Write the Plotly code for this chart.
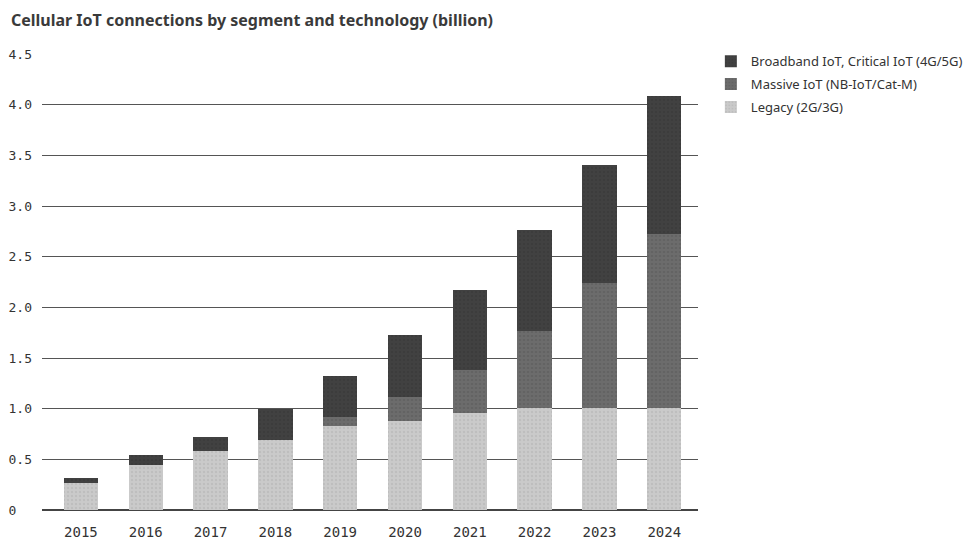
import plotly.graph_objects as go

years = ["2015", "2016", "2017", "2018", "2019", "2020", "2021", "2022", "2023", "2024"]
legacy = [0.27, 0.44, 0.58, 0.69, 0.83, 0.88, 0.96, 1.01, 1.01, 1.01]
massive = [0.00, 0.00, 0.00, 0.00, 0.09, 0.24, 0.42, 0.76, 1.23, 1.71]
broadband = [0.05, 0.10, 0.14, 0.31, 0.40, 0.61, 0.79, 0.99, 1.16, 1.37]
y_ticks = [0, 0.5, 1.0, 1.5, 2.0, 2.5, 3.0, 3.5, 4.0, 4.5]
y_tick_labels = ["0\u00a0\u00a0", "0.5", "1.0", "1.5", "2.0", "2.5", "3.0", "3.5", "4.0", "4.5"]

fig = go.Figure()
fig.add_trace(go.Bar(x=years, y=legacy, name="Legacy (2G/3G)", legendgroup="c", legendrank=3,
                     marker=dict(color="#cacaca", line=dict(width=0),
                                 pattern=dict(shape=".", fgcolor="#b2b2b2", size=4, solidity=0.3))))
fig.add_trace(go.Bar(x=years, y=massive, name="Massive IoT (NB-IoT/Cat-M)", legendgroup="b", legendrank=2,
                     marker=dict(color="#6c6c6c", line=dict(width=0),
                                 pattern=dict(shape=".", fgcolor="#5a5a5a", size=4, solidity=0.3))))
fig.add_trace(go.Bar(x=years, y=broadband, name="Broadband IoT, Critical IoT (4G/5G)", legendgroup="a", legendrank=1,
                     marker=dict(color="#414141", line=dict(width=0),
                                 pattern=dict(shape=".", fgcolor="#353535", size=4, solidity=0.3))))

fig.update_layout(
    barmode="stack",
    bargap=0.47,
    width=972, height=545,
    paper_bgcolor="white", plot_bgcolor="white",
    margin=dict(l=34, r=280, t=46, b=43),
    title=dict(text="Cellular IoT connections by segment and technology (billion)",
               x=0.003, xanchor="left", xref="container", y=0.978, yanchor="middle",
               font=dict(family="Noto Sans", size=16, color="#3a3a3a", weight="bold")),
    legend=dict(traceorder="grouped", x=1.0196, xanchor="left", y=1.017, yanchor="top",
                font=dict(family="Noto Sans", size=13, color="#333"),
                tracegroupgap=3, itemwidth=30, bgcolor="rgba(0,0,0,0)"),
    font=dict(family="DejaVu Sans Mono", color="#333"),
)
fig.update_xaxes(type="category", range=[-0.6, 9.52], showgrid=False, showline=False,
                 ticks="", ticklabelstandoff=12, automargin=False,
                 tickfont=dict(family="DejaVu Sans Mono", size=14, color="#333"))
fig.update_yaxes(range=[0, 4.5], tickvals=y_ticks, ticktext=y_tick_labels,
                 showgrid=True, gridcolor="#555555", gridwidth=1,
                 zeroline=True, zerolinecolor="#444444", zerolinewidth=1.5,
                 ticks="", ticklabelstandoff=9, automargin=False,
                 tickfont=dict(family="DejaVu Sans Mono", size=13, color="#333"))

fig.write_html("out.html")
